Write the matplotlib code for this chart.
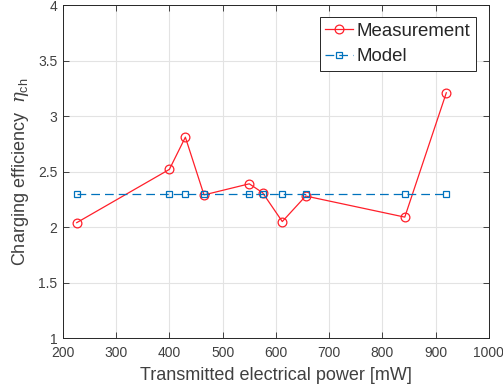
import matplotlib
matplotlib.use("Agg")
import matplotlib.pyplot as plt

# transmitted power [mW] and charging efficiency
power = [226, 400, 430, 465, 550, 575, 612, 656, 842, 920]
eta_meas = [2.04, 2.52, 2.81, 2.29, 2.39, 2.31, 2.05, 2.28, 2.09, 3.21]
eta_model = [2.30, 2.30, 2.30, 2.30, 2.30, 2.30, 2.30, 2.30, 2.30, 2.30]

xticks = [200, 300, 400, 500, 600, 700, 800, 900, 1000]
yticks = [1, 1.5, 2, 2.5, 3, 3.5, 4]
ytick_labels = ["1", "1.5", "2", "2.5", "3", "3.5", "4"]

plt.rcParams["font.family"] = ["Liberation Sans", "DejaVu Sans"]
plt.rcParams["mathtext.fontset"] = "custom"
plt.rcParams["mathtext.rm"] = "Liberation Sans"
plt.rcParams["mathtext.it"] = "DejaVu Serif:italic"

fig = plt.figure(figsize=(5.03, 3.90), dpi=100)
ax = fig.add_axes([0.125, 0.133, 0.847, 0.854])

ax.plot(power, eta_meas, color="#ff1f2a", lw=0.9, marker="o", ms=6.3,
        mfc="none", mec="#ff1f2a", mew=0.9, label="Measurement")
ax.plot(power, eta_model, color="#0072bd", lw=0.9, ls=(0, (7, 4)), marker="s",
        ms=4, mfc="none", mec="#0072bd", mew=0.9, label="Model")

ax.set_xlim(200, 1000)
ax.set_ylim(1, 4)
ax.set_xticks(xticks)
ax.set_yticks(yticks)
ax.set_yticklabels(ytick_labels)
ax.grid(True, color="#e3e3e3", lw=0.8)
ax.set_axisbelow(True)
ax.tick_params(direction="in", top=True, right=True, length=4, width=0.6,
               colors="#262626", labelsize=10, labelcolor="#404040")
ax.tick_params(axis="x", pad=6)
ax.tick_params(axis="y", pad=4)
for s in ax.spines.values():
    s.set_color("#262626")
    s.set_linewidth(0.7)

ax.set_xlabel("Transmitted electrical power [mW]", fontsize=13, color="#404040",
              labelpad=5)
ax.set_ylabel(r"Charging efficiency  $\eta_{\rm ch}$", fontsize=13, color="#404040",
              labelpad=5)

leg = ax.legend(loc="upper right", fontsize=13.4, fancybox=False, framealpha=1,
                edgecolor="#262626", handlelength=1.5, borderpad=0.3,
                labelspacing=0.45, handletextpad=0.2, borderaxespad=0,
                bbox_to_anchor=(0.97, 0.963))
leg.get_frame().set_linewidth(0.7)
for t in leg.get_texts():
    t.set_color("#262626")

fig.savefig("out.png", dpi=100)
